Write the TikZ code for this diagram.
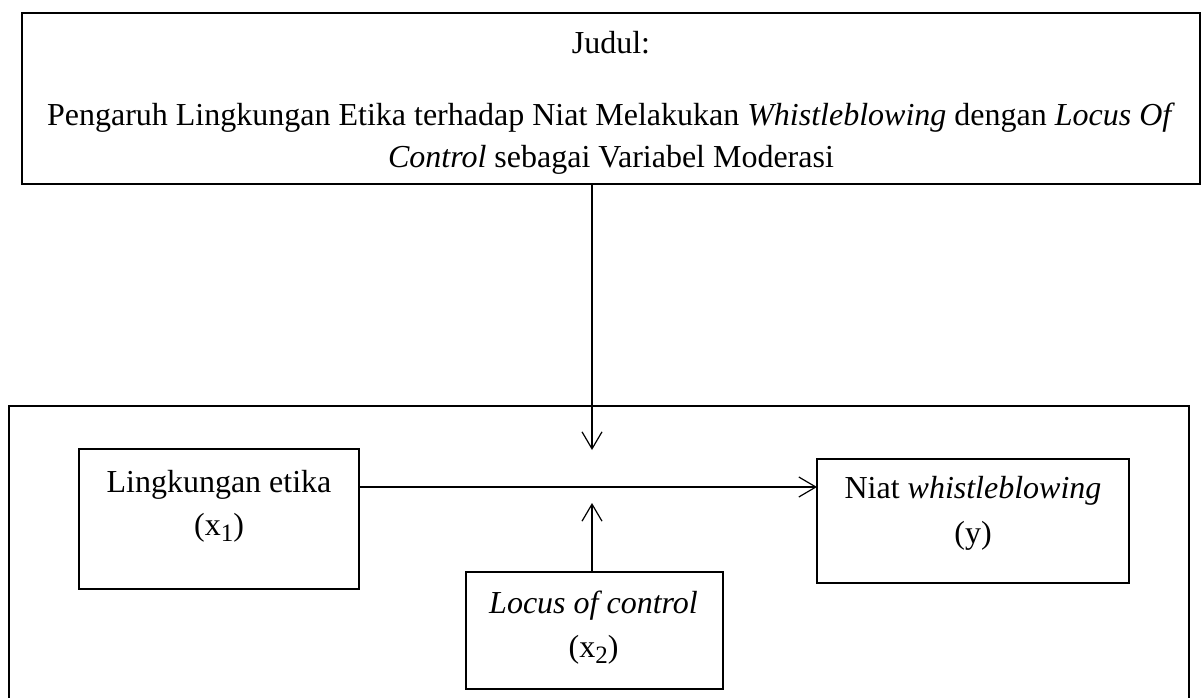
\documentclass[tikz,border=0pt]{standalone}
\usepackage{fontspec}
\setmainfont{Liberation Serif}
\usetikzlibrary{arrows.meta}
\newcommand{\subidx}[1]{\raisebox{-0.2em}{\fontsize{25}{25}\selectfont #1}}
\begin{document}
\begin{tikzpicture}[x=1pt,y=-1pt,
  every node/.style={inner sep=0pt, outer sep=0pt},
  frame/.style={draw, line width=2pt, rectangle},
  txt/.style={anchor=base, font=\fontsize{32}{38}\selectfont},
  conn/.style={line width=1.2pt, -{Straight Barb[length=17pt,width=20pt,line width=1.2pt]}}]
\useasboundingbox (0,0) rectangle (1204,698);
% title box
\node[frame, line width=2.5pt, minimum width=1178pt, minimum height=171pt] (title) at (611,98.5) {};
\node[txt] (t1) at (611,54) {Judul:};
\node[txt] (t2) at (611,126) {Pengaruh Lingkungan Etika terhadap Niat Melakukan \textit{Whistleblowing} dengan \textit{Locus Of}};
\node[txt] (t3) at (611,167) {\textit{Control} sebagai Variabel Moderasi};
% outer frame (bottom edge lies outside the picture)
\draw[line width=2.5pt] (9,702) -- (9,406) -- (1189,406) -- (1189,702);
% variable boxes
\node[frame, minimum width=280pt, minimum height=140pt] (x1) at (219,519) {};
\node[txt] (x1a) at (219,492) {Lingkungan etika};
\node[txt] (x1b) at (219,535) {(x\subidx{1})};
\node[frame, minimum width=312pt, minimum height=124pt] (y) at (973,521) {};
\node[txt] (ya) at (973,498) {Niat \textit{whistleblowing}};
\node[txt] (yb) at (973,543) {(y)};
\node[frame, minimum width=257pt, minimum height=117pt] (x2) at (594.5,630.5) {};
\node[txt] (x2a) at (593.5,613) {\textit{Locus of control}};
\node[txt] (x2b) at (593.5,657) {(x\subidx{2})};
% connectors
\coordinate (vx) at (592,0);
\coordinate (hy) at (0,487);
\coordinate (tipdown) at (592,450);
\coordinate (tipup) at (592,503);
\draw[conn] (title.south -| vx) -- (tipdown);
\draw[conn] (x2.north -| vx) -- (tipup);
\draw[conn] (x1.east |- hy) -- (y.west |- hy);
\end{tikzpicture}
\end{document}
